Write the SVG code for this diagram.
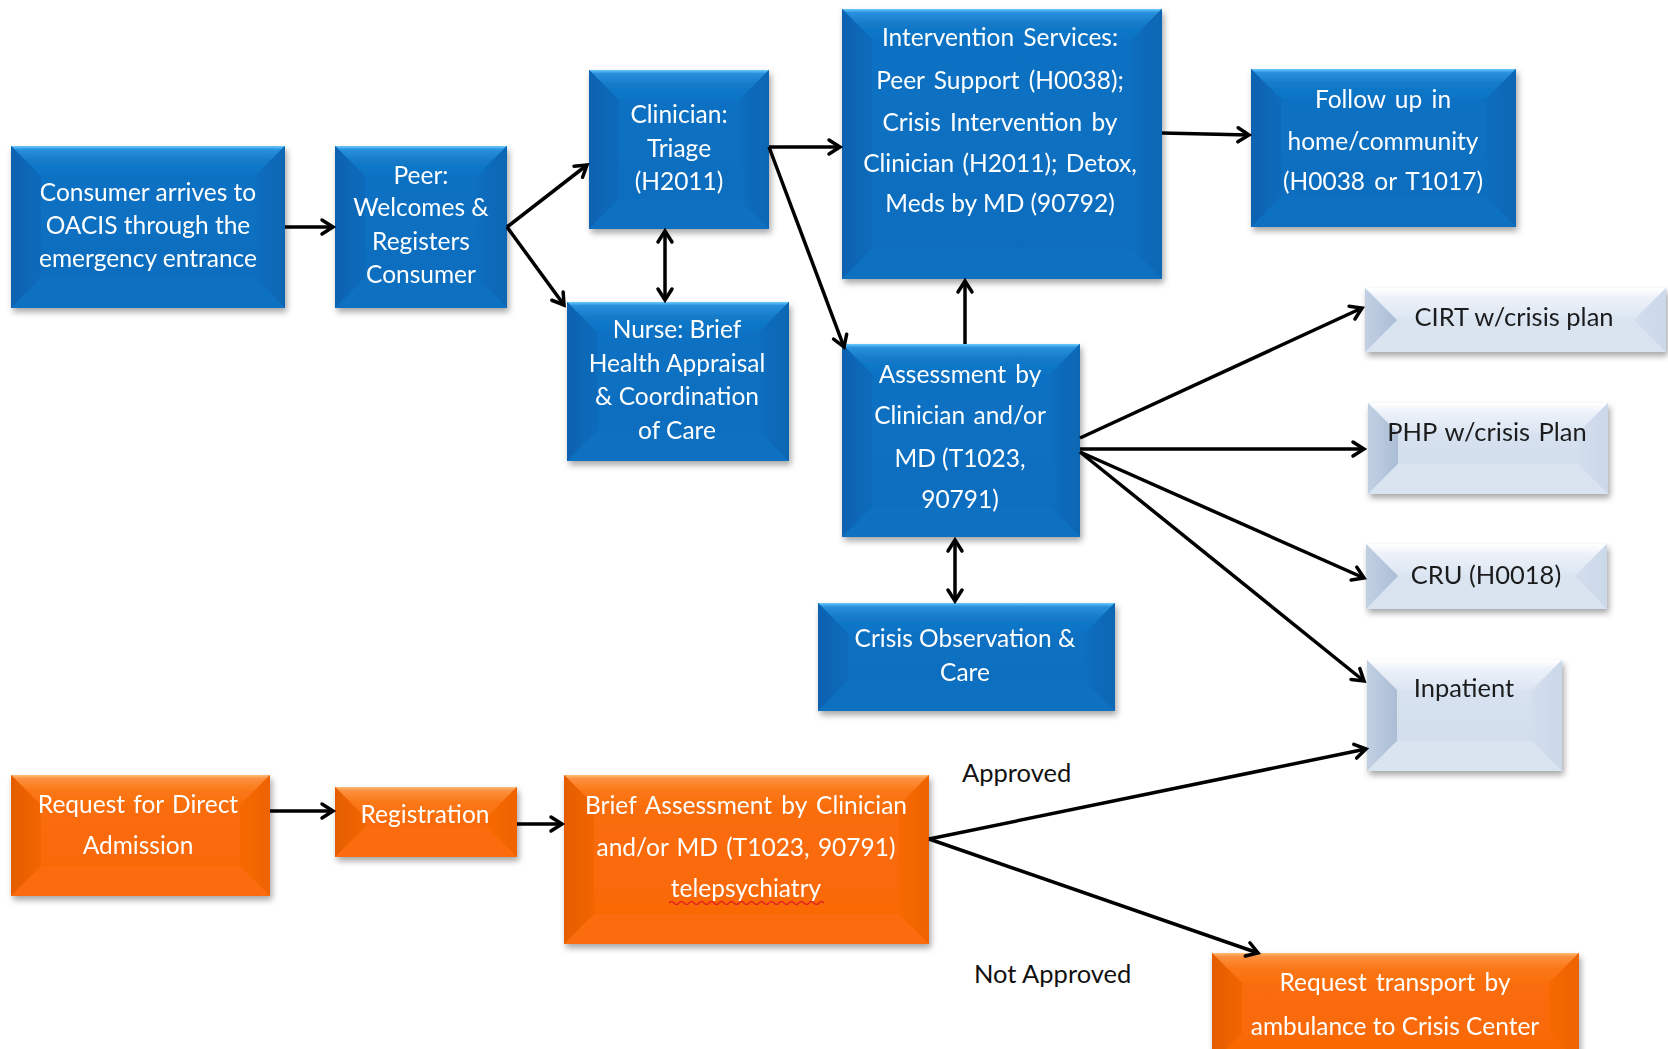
<svg xmlns="http://www.w3.org/2000/svg" width="1668" height="1049" viewBox="0 0 1668 1049">
<defs>
<filter id="sh" x="-10%" y="-10%" width="125%" height="130%">
<feDropShadow dx="2" dy="4" stdDeviation="3" flood-color="#000" flood-opacity="0.35"/>
</filter>
<linearGradient id="bFace" x1="0" y1="0" x2="0" y2="1"><stop offset="0" stop-color="#0B72C4"/><stop offset="1" stop-color="#096CBD"/></linearGradient>
<linearGradient id="bTop" x1="0" y1="0" x2="0" y2="1"><stop offset="0" stop-color="#6ACBFF"/><stop offset="0.12" stop-color="#2A90DC"/><stop offset="0.5" stop-color="#137AC9"/><stop offset="1" stop-color="#0C73C5"/></linearGradient>
<linearGradient id="bLeft" x1="0" y1="0" x2="1" y2="0"><stop offset="0" stop-color="#0862B0"/><stop offset="1" stop-color="#0A6BBB"/></linearGradient>
<linearGradient id="bRight" x1="1" y1="0" x2="0" y2="0"><stop offset="0" stop-color="#0A66B3"/><stop offset="1" stop-color="#0B6EBF"/></linearGradient>
<linearGradient id="oFace" x1="0" y1="0" x2="0" y2="1"><stop offset="0" stop-color="#FA6E0B"/><stop offset="1" stop-color="#F96805"/></linearGradient>
<linearGradient id="oTop" x1="0" y1="0" x2="0" y2="1"><stop offset="0" stop-color="#FFBC78"/><stop offset="0.12" stop-color="#FD9040"/><stop offset="0.5" stop-color="#FB7818"/><stop offset="1" stop-color="#FA6F0C"/></linearGradient>
<linearGradient id="oLeft" x1="0" y1="0" x2="1" y2="0"><stop offset="0" stop-color="#E45D00"/><stop offset="1" stop-color="#F26603"/></linearGradient>
<linearGradient id="oRight" x1="1" y1="0" x2="0" y2="0"><stop offset="0" stop-color="#EE6300"/><stop offset="1" stop-color="#F76904"/></linearGradient>
<linearGradient id="lFace" x1="0" y1="0" x2="0" y2="1"><stop offset="0" stop-color="#DAE4F1"/><stop offset="1" stop-color="#D0DCEC"/></linearGradient>
<linearGradient id="lTop" x1="0" y1="0" x2="0" y2="1"><stop offset="0" stop-color="#FFFFFF"/><stop offset="0.3" stop-color="#EDF2F9"/><stop offset="1" stop-color="#DBE5F2"/></linearGradient>
<linearGradient id="lLeft" x1="0" y1="0" x2="1" y2="0"><stop offset="0" stop-color="#C2D0E3"/><stop offset="1" stop-color="#ABBDD5"/></linearGradient>
<linearGradient id="lRight" x1="1" y1="0" x2="0" y2="0"><stop offset="0" stop-color="#CBD8E9"/><stop offset="1" stop-color="#D3DEED"/></linearGradient>
<marker id="ah" markerUnits="userSpaceOnUse" markerWidth="20" markerHeight="20" refX="12" refY="8" orient="auto-start-reverse" overflow="visible">
<path d="M1,1 L12,8 L1,15" fill="none" stroke="#000" stroke-width="3.5" stroke-linecap="round" stroke-linejoin="miter"/>
</marker>
</defs>
<style>
.box{filter:url(#sh)}
.blue .face{fill:url(#bFace)}
.blue .top{fill:url(#bTop)}
.blue .left{fill:url(#bLeft)}
.blue .right{fill:url(#bRight)}
.blue .bot{fill:#0C70C1}
.orange .face{fill:url(#oFace)}
.orange .top{fill:url(#oTop)}
.orange .left{fill:url(#oLeft)}
.orange .right{fill:url(#oRight)}
.orange .bot{fill:#FA6C08}
.light .face{fill:url(#lFace)}
.light .top{fill:url(#lTop)}
.light .left{fill:url(#lLeft)}
.light .right{fill:url(#lRight)}
.light .bot{fill:#DAE4F1}
text{font-family:Lato,"Liberation Sans",sans-serif;font-size:24.5px;text-anchor:middle}
.blue text,.orange text{fill:#FFFFFF}
.light text{fill:#1C1C1C;font-size:25.5px}
.lbl{fill:#111;text-anchor:start;font-size:25.5px}
.conn path{fill:none;stroke:#000;stroke-width:3.5;marker-end:url(#ah)}
.conn path.both{marker-start:url(#ah)}
</style>

<g id="consumer" class="box blue">
<rect class="face" x="11" y="146" width="274" height="162"/>
<polygon class="top" points="11,146 285,146 255,176 41,176"/>
<polygon class="left" points="11,146 41,176 41,278 11,308"/>
<polygon class="right" points="285,146 285,308 255,278 255,176"/>
<polygon class="bot" points="11,308 41,278 255,278 285,308"/>
<text><tspan x="148" y="201">Consumer arrives to</tspan><tspan x="148" y="234">OACIS through the</tspan><tspan x="148" y="267">emergency entrance</tspan></text>
</g>

<g id="peer" class="box blue">
<rect class="face" x="335" y="146" width="172" height="162"/>
<polygon class="top" points="335,146 507,146 477,176 365,176"/>
<polygon class="left" points="335,146 365,176 365,278 335,308"/>
<polygon class="right" points="507,146 507,308 477,278 477,176"/>
<polygon class="bot" points="335,308 365,278 477,278 507,308"/>
<text><tspan x="421" y="184">Peer:</tspan><tspan x="421" y="216">Welcomes &amp;</tspan><tspan x="421" y="250">Registers</tspan><tspan x="421" y="283">Consumer</tspan></text>
</g>

<g id="triage" class="box blue">
<rect class="face" x="589" y="70" width="180" height="159"/>
<polygon class="top" points="589,70 769,70 739,100 619,100"/>
<polygon class="left" points="589,70 619,100 619,199 589,229"/>
<polygon class="right" points="769,70 769,229 739,199 739,100"/>
<polygon class="bot" points="589,229 619,199 739,199 769,229"/>
<text><tspan x="679" y="123">Clinician:</tspan><tspan x="679" y="157">Triage</tspan><tspan x="679" y="190">(H2011)</tspan></text>
</g>

<g id="nurse" class="box blue">
<rect class="face" x="567" y="302" width="222" height="159"/>
<polygon class="top" points="567,302 789,302 759,332 597,332"/>
<polygon class="left" points="567,302 597,332 597,431 567,461"/>
<polygon class="right" points="789,302 789,461 759,431 759,332"/>
<polygon class="bot" points="567,461 597,431 759,431 789,461"/>
<text><tspan x="677" y="338">Nurse: Brief</tspan><tspan x="677" y="372">Health Appraisal</tspan><tspan x="677" y="405">&amp; Coordination</tspan><tspan x="677" y="439">of Care</tspan></text>
</g>

<g id="intervention" class="box blue">
<rect class="face" x="842" y="9" width="320" height="270"/>
<polygon class="top" points="842,9 1162,9 1132,39 872,39"/>
<polygon class="left" points="842,9 872,39 872,249 842,279"/>
<polygon class="right" points="1162,9 1162,279 1132,249 1132,39"/>
<polygon class="bot" points="842,279 872,249 1132,249 1162,279"/>
<text><tspan x="1000" y="46" word-spacing="3">Intervention Services:</tspan><tspan x="1000" y="89" word-spacing="3">Peer Support (H0038);</tspan><tspan x="1000" y="131" word-spacing="3">Crisis Intervention by</tspan><tspan x="1000" y="172" word-spacing="2">Clinician (H2011); Detox,</tspan><tspan x="1000" y="212">Meds by MD (90792)</tspan></text>
</g>

<g id="followup" class="box blue">
<rect class="face" x="1251" y="69" width="265" height="158"/>
<polygon class="top" points="1251,69 1516,69 1486,99 1281,99"/>
<polygon class="left" points="1251,69 1281,99 1281,197 1251,227"/>
<polygon class="right" points="1516,69 1516,227 1486,197 1486,99"/>
<polygon class="bot" points="1251,227 1281,197 1486,197 1516,227"/>
<text><tspan x="1383" y="108" word-spacing="3">Follow up in</tspan><tspan x="1383" y="150">home/community</tspan><tspan x="1383" y="190" word-spacing="3">(H0038 or T1017)</tspan></text>
</g>

<g id="assessment" class="box blue">
<rect class="face" x="842" y="344" width="238" height="193"/>
<polygon class="top" points="842,344 1080,344 1050,374 872,374"/>
<polygon class="left" points="842,344 872,374 872,507 842,537"/>
<polygon class="right" points="1080,344 1080,537 1050,507 1050,374"/>
<polygon class="bot" points="842,537 872,507 1050,507 1080,537"/>
<text><tspan x="960" y="383" word-spacing="3">Assessment by</tspan><tspan x="960" y="424" word-spacing="2">Clinician and/or</tspan><tspan x="960" y="467">MD (T1023,</tspan><tspan x="960" y="508">90791)</tspan></text>
</g>

<g id="crisisobs" class="box blue">
<rect class="face" x="818" y="603" width="297" height="108"/>
<polygon class="top" points="818,603 1115,603 1085,633 848,633"/>
<polygon class="left" points="818,603 848,633 848,681 818,711"/>
<polygon class="right" points="1115,603 1115,711 1085,681 1085,633"/>
<polygon class="bot" points="818,711 848,681 1085,681 1115,711"/>
<text><tspan x="965" y="647">Crisis Observation &amp;</tspan><tspan x="965" y="681">Care</tspan></text>
</g>

<g id="cirt" class="box light">
<rect class="face" x="1365" y="288" width="301" height="64"/>
<polygon class="top" points="1365,288 1666,288 1634,320 1397,320"/>
<polygon class="bot" points="1365,352 1397,320 1634,320 1666,352"/>
<polygon class="left" points="1365,288 1397,320 1365,352"/>
<polygon class="right" points="1666,288 1666,352 1634,320"/>
<text><tspan x="1514" y="326">CIRT w/crisis plan</tspan></text>
</g>

<g id="php" class="box light">
<rect class="face" x="1368" y="403" width="240" height="91"/>
<polygon class="top" points="1368,403 1608,403 1578,433 1398,433"/>
<polygon class="left" points="1368,403 1398,433 1398,464 1368,494"/>
<polygon class="right" points="1608,403 1608,494 1578,464 1578,433"/>
<polygon class="bot" points="1368,494 1398,464 1578,464 1608,494"/>
<text><tspan x="1487" y="441" word-spacing="2">PHP w/crisis Plan</tspan></text>
</g>

<g id="cru" class="box light">
<rect class="face" x="1366" y="544" width="241" height="65"/>
<polygon class="top" points="1366,544 1607,544 1575,576 1398,576"/>
<polygon class="bot" points="1366,609 1398,576 1575,576 1607,609"/>
<polygon class="left" points="1366,544 1398,576 1366,609"/>
<polygon class="right" points="1607,544 1607,609 1575,576"/>
<text><tspan x="1486" y="584">CRU (H0018)</tspan></text>
</g>

<g id="inpatient" class="box light">
<rect class="face" x="1367" y="660" width="195" height="111"/>
<polygon class="top" points="1367,660 1562,660 1532,690 1397,690"/>
<polygon class="left" points="1367,660 1397,690 1397,741 1367,771"/>
<polygon class="right" points="1562,660 1562,771 1532,741 1532,690"/>
<polygon class="bot" points="1367,771 1397,741 1532,741 1562,771"/>
<text><tspan x="1464" y="697">Inpatient</tspan></text>
</g>

<g id="request" class="box orange">
<rect class="face" x="11" y="775" width="259" height="121"/>
<polygon class="top" points="11,775 270,775 240,805 41,805"/>
<polygon class="left" points="11,775 41,805 41,866 11,896"/>
<polygon class="right" points="270,775 270,896 240,866 240,805"/>
<polygon class="bot" points="11,896 41,866 240,866 270,896"/>
<text><tspan x="138" y="813" word-spacing="2">Request for Direct</tspan><tspan x="138" y="854">Admission</tspan></text>
</g>

<g id="registration" class="box orange">
<rect class="face" x="335" y="787" width="182" height="70"/>
<polygon class="top" points="335,787 517,787 487,817 365,817"/>
<polygon class="left" points="335,787 365,817 365,827 335,857"/>
<polygon class="right" points="517,787 517,857 487,827 487,817"/>
<polygon class="bot" points="335,857 365,827 487,827 517,857"/>
<text><tspan x="425" y="823">Registration</tspan></text>
</g>

<g id="brief" class="box orange">
<rect class="face" x="564" y="775" width="365" height="169"/>
<polygon class="top" points="564,775 929,775 899,805 594,805"/>
<polygon class="left" points="564,775 594,805 594,914 564,944"/>
<polygon class="right" points="929,775 929,944 899,914 899,805"/>
<polygon class="bot" points="564,944 594,914 899,914 929,944"/>
<text><tspan x="746" y="814" word-spacing="3">Brief Assessment by Clinician</tspan><tspan x="746" y="856" word-spacing="2">and/or MD (T1023, 90791)</tspan><tspan x="746" y="897">telepsychiatry</tspan></text>
<path d="M669,903 q2.5,-3 5,0 t5,0 t5,0 t5,0 t5,0 t5,0 t5,0 t5,0 t5,0 t5,0 t5,0 t5,0 t5,0 t5,0 t5,0 t5,0 t5,0 t5,0 t5,0 t5,0 t5,0 t5,0 t5,0 t5,0 t5,0 t5,0 t5,0 t5,0 t5,0 t5,0 t5,0" fill="none" stroke="#E02020" stroke-width="1.3"/>
</g>

<g id="transport" class="box orange">
<rect class="face" x="1212" y="953" width="367" height="110"/>
<polygon class="top" points="1212,953 1579,953 1549,983 1242,983"/>
<polygon class="left" points="1212,953 1242,983 1242,1033 1212,1063"/>
<polygon class="right" points="1579,953 1579,1063 1549,1033 1549,983"/>
<text><tspan x="1395" y="991" word-spacing="3">Request transport by</tspan><tspan x="1395" y="1035">ambulance to Crisis Center</tspan></text>
</g>

<g id="labels">
<text class="lbl" x="962" y="782">Approved</text>
<text class="lbl" x="974" y="983">Not Approved</text>
</g>

<g id="connectors" class="conn">
<path d="M285,227 L333,227"/>
<path d="M507,227 L587,165"/>
<path d="M507,227 L564,305"/>
<path class="both" d="M665,231 L665,300"/>
<path d="M769,147 L840,147"/>
<path d="M769,147 L844,347"/>
<path d="M965,344 L965,281"/>
<path d="M1162,133 L1249,135"/>
<path class="both" d="M955,540 L955,601"/>
<path d="M1080,438 L1362,308"/>
<path d="M1080,449 L1364,449"/>
<path d="M1080,452 L1364,578"/>
<path d="M1080,452 L1364,681"/>
<path d="M270,811 L333,811"/>
<path d="M517,824 L562,824"/>
<path d="M929,839 L1366,749"/>
<path d="M929,839 L1258,953"/>
</g>
</svg>
